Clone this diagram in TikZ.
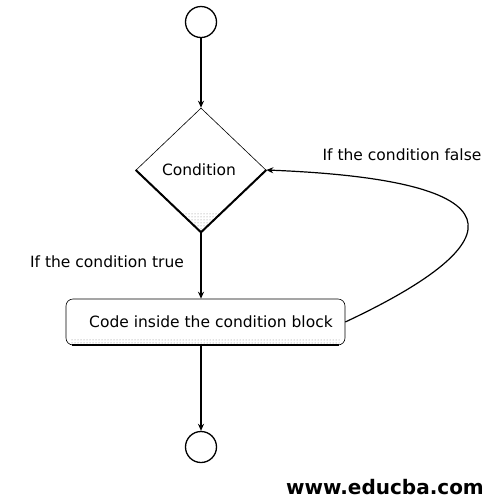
\documentclass[tikz,border=0pt]{standalone}
\usepackage{fontspec}
\setmainfont{DejaVu Sans}
\usetikzlibrary{arrows.meta,shapes.geometric,patterns}
\begin{document}
\begin{tikzpicture}[x=1pt,y=-1pt,
  term/.style={circle,draw,line width=1.3pt,minimum size=31pt,inner sep=0pt},
  cond/.style={diamond,draw,line width=0.6pt,minimum width=130pt,minimum height=124pt,aspect=1.05,inner sep=0pt},
  blk/.style={rectangle,rounded corners=7pt,draw,line width=0.6pt,minimum width=279pt,minimum height=46pt},
  lbl/.style={font=\fontsize{15.5}{18}\selectfont},
  flow/.style={line width=1.2pt,-{Stealth[length=7pt,width=6pt]}}]
\useasboundingbox (0,0) rectangle (496,499);
\node[term] (start) at (201,22) {};
\node[cond] (c) at (201,170) {};
\node[lbl] (ct) at (199,170) {Condition};
% shading of the diamond's lower tip
\fill[pattern=dots,pattern color=gray] (c.south) -- ++(-22,-21) -- ++(44,0) -- cycle;
\draw[line width=2pt] (c.west) -- (c.south) -- (c.east);
\node[blk] (b) at (205.5,322) {};
\node[lbl] (bt) at (211,322) {Code inside the condition block};
\fill[pattern=dots,pattern color=gray] ([xshift=6pt,yshift=2pt]b.south west) rectangle ([xshift=-6pt,yshift=6pt]b.south east);
\draw[line width=1.8pt] ([xshift=6pt]b.south west) -- ([xshift=-6pt]b.south east);
\node[term] (end) at (201,447) {};
\node[lbl] (lt) at (107,262) {If the condition true};
\node[lbl] (lf) at (402,155) {If the condition false};
\node[font=\bfseries\fontsize{20}{24}\selectfont] (web) at (385,487) {www.educba.com};
\draw[flow] (start) -- (c.north);
\draw[flow] (c.south) -- (c.south |- b.north);
\draw[flow] (c.south |- b.south) -- (end);
\draw[flow] (b.east) .. controls (520,240) and (520,180) .. (c.east);
\end{tikzpicture}
\end{document}
